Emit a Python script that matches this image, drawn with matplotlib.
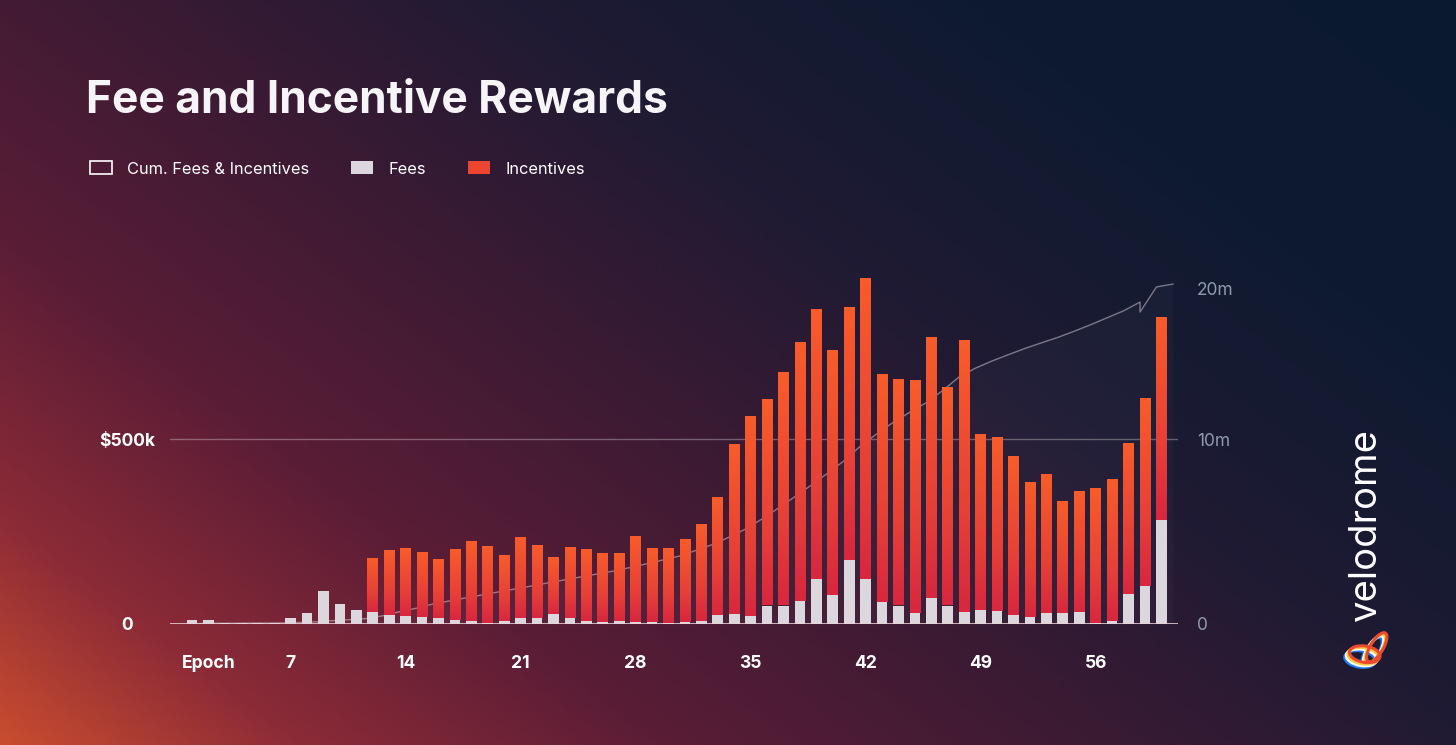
import numpy as np
import matplotlib
matplotlib.use('Agg')
import matplotlib.pyplot as plt
from matplotlib.colors import LinearSegmentedColormap
from matplotlib.patches import Patch, Ellipse

plt.rcParams['font.family'] = ['Inter', 'DejaVu Sans']

# data, values in $k per epoch
epochs = np.arange(1, 61)
fees_k = [12, 12, 3, 3, 3, 3, 15, 29, 88, 53,
          37, 33, 25, 21, 19, 16, 10, 7, 4, 7,
          15, 17, 26, 17, 7, 5, 7, 5, 5, 4,
          5, 8, 23, 26, 21, 50, 50, 63, 121, 78,
          172, 121, 60, 50, 31, 71, 50, 33, 38, 36,
          23, 20, 31, 31, 33, 3, 7, 82, 102, 281]
incentives_k = [0, 0, 0, 0, 0, 0, 0, 0, 0, 0,
                0, 145, 174, 182, 175, 157, 190, 214, 207, 178,
                217, 195, 152, 190, 193, 185, 183, 230, 199, 201,
                222, 262, 318, 457, 539, 555, 628, 699, 728, 662,
                683, 812, 615, 609, 628, 704, 587, 735, 473, 469,
                429, 364, 374, 301, 325, 363, 382, 406, 507, 546]

# cumulative fees & incentives line ($m), epoch 58 has a glitch in the source
cum_epochs = [0] + list(range(1, 59)) + [58, 59, 60]
cum_m = [0.0, 0.03, 0.04, 0.04, 0.05, 0.05, 0.06, 0.09, 0.12, 0.19, 0.24,
         0.30, 0.46, 0.68, 0.86, 1.09, 1.25, 1.42, 1.58, 1.74, 1.90,
         2.06, 2.23, 2.39, 2.55, 2.71, 2.87, 3.06, 3.26, 3.47, 3.68,
         3.99, 4.30, 4.70, 5.14, 5.68, 6.27, 6.89, 7.51, 8.16, 8.83,
         9.63, 10.36, 11.12, 11.78, 12.41, 13.22, 14.12, 14.70, 15.17, 15.59,
         16.00, 16.37, 16.73, 17.14, 17.57, 18.03, 18.49, 19.07, 18.41, 20.07, 20.26]

xtick_epochs = [2, 7, 14, 21, 28, 35, 42, 49, 56]
xtick_labels = ['Epoch', '7', '14', '21', '28', '35', '42', '49', '56']

fees = np.array(fees_k) * 1000
incentives = np.array(incentives_k) * 1000
cum = np.array(cum_m) * 1e6

W, H = 1456, 745
fig = plt.figure(figsize=(W / 100, H / 100), dpi=100)

# background gradient
bg_stops = [(0.0, '#c84c2f'), (0.12, '#8c2b37'), (0.27, '#5b1d36'), (0.45, '#3b1a33'),
            (0.62, '#1e1a33'), (0.8, '#0e1a30'), (1.0, '#0b192e')]
bg_cmap = LinearSegmentedColormap.from_list('bg', bg_stops)
yy, xx = np.mgrid[0:1:150j, 0:1:300j]
d = 0.6 * xx + 0.4 * yy
bgax = fig.add_axes([0, 0, 1, 1], zorder=-10)
bgax.imshow(bg_cmap(d), aspect='auto', origin='lower', extent=[0, 1, 0, 1],
            interpolation='bilinear')
bgax.axis('off')

# main axes
ax = fig.add_axes([170 / W, (H - 624) / H, 1008 / W, 364 / H])
ax.patch.set_alpha(0)
for s in ax.spines.values():
    s.set_visible(False)

fee_color = '#dbd7dc'
ax.bar(epochs, fees, width=0.65, color=fee_color, zorder=3)
inc_bars = ax.bar(epochs, incentives, width=0.65, bottom=fees, color='none', zorder=3)

inc_cmap = LinearSegmentedColormap.from_list(
    'inc', [(0, '#d8273f'), (0.35, '#e63f38'), (1, '#f85c2a')])
grad = np.linspace(0, 1, 64).reshape(-1, 1)
for p in inc_bars.patches:
    if p.get_height() <= 0:
        continue
    x0, y0 = p.get_x(), p.get_y()
    ax.imshow(grad, cmap=inc_cmap, aspect='auto', origin='lower',
              extent=[x0, x0 + p.get_width(), y0, y0 + p.get_height()],
              interpolation='bilinear', zorder=3)

ax.set_xlim(-0.34, 61.01)
ax.set_ylim(0, 500000 * 364 / 185)

ax.axhline(500000, color='white', alpha=0.3, lw=1, zorder=1)
ax.axhline(0, color='#ecd3d8', alpha=0.9, lw=2, zorder=4)

ax.set_yticks([0, 500000])
ax.set_yticklabels(['0', '$500k'])
ax.tick_params(axis='y', length=0, pad=31, labelcolor='white', labelsize=12.6)
for t in ax.get_yticklabels():
    t.set_ha('center')
    t.set_fontweight('bold')

ax.set_xticks(xtick_epochs)
ax.set_xticklabels(xtick_labels)
ax.tick_params(axis='x', length=0, pad=22, labelcolor='white', labelsize=12.6)
for t in ax.get_xticklabels():
    t.set_fontweight('bold')

# right axis for the cumulative line
rp = [0, 185, 336, 638]
rv = [0, 10e6, 20e6, 40e6]


def fwd(v):
    return np.interp(v, rv, rp)


def inv(p):
    return np.interp(p, rp, rv)


ax2 = ax.twinx()
ax2.set_yscale('function', functions=(fwd, inv))
ax2.set_ylim(0, inv(364))
for s in ax2.spines.values():
    s.set_visible(False)
line_x = np.array(cum_epochs) + 0.7
ax2.plot(line_x, cum, color='#dcd6e4', alpha=0.5, lw=1, zorder=5)
ax2.fill_between(line_x, 0, cum, color='#b8c8e0', alpha=0.03, lw=0)
ax2.set_yticks([0, 10e6, 20e6])
ax2.set_yticklabels(['0', '10m', '20m'])
ax2.tick_params(axis='y', length=0, pad=13.5, labelcolor='#8f9aad', labelsize=12.5)
ax.set_zorder(2)
ax2.set_zorder(1)

# title and legend
fig.text(86 / W, 1 - 101 / H, 'Fee and Incentive Rewards', color='#f6f4f7',
         fontsize=31.9, fontweight='bold', va='center', ha='left')

handles = [Patch(facecolor='none', edgecolor='white', lw=1.2),
           Patch(facecolor=fee_color, edgecolor='none'),
           Patch(facecolor='#ee4530', edgecolor='none')]
labels = ['Cum. Fees & Incentives', 'Fees', 'Incentives']
fig.legend(handles, labels, loc='center left', bbox_to_anchor=(90 / W, 1 - 169 / H),
           ncol=3, frameon=False, fontsize=11.8, labelcolor='white',
           handlelength=1.33, handleheight=0.85, handletextpad=0.95,
           columnspacing=2.55, borderpad=0, borderaxespad=0)

# velodrome wordmark and logo
fig.text(1366 / W, 1 - 525 / H, 'velodrome', rotation=90, color='white',
         fontsize=27.5, ha='center', va='center')
logo_colors = ['#1f7cf2', '#ffffff', '#f7c948', '#ec4a2c']
for i, c in enumerate(logo_colors):
    off = i * 1.6
    fig.patches.append(Ellipse(((1360 + off) / W, 1 - (659 - off) / H), 28 / W, 18 / H,
                               angle=35, fill=False, edgecolor=c, lw=2.2,
                               transform=fig.transFigure, figure=fig))
    fig.patches.append(Ellipse(((1372 + off) / W, 1 - (652 - off) / H), 14 / W, 30 / H,
                               angle=-15, fill=False, edgecolor=c, lw=2.2,
                               transform=fig.transFigure, figure=fig))

fig.savefig('out.png', dpi=100)
